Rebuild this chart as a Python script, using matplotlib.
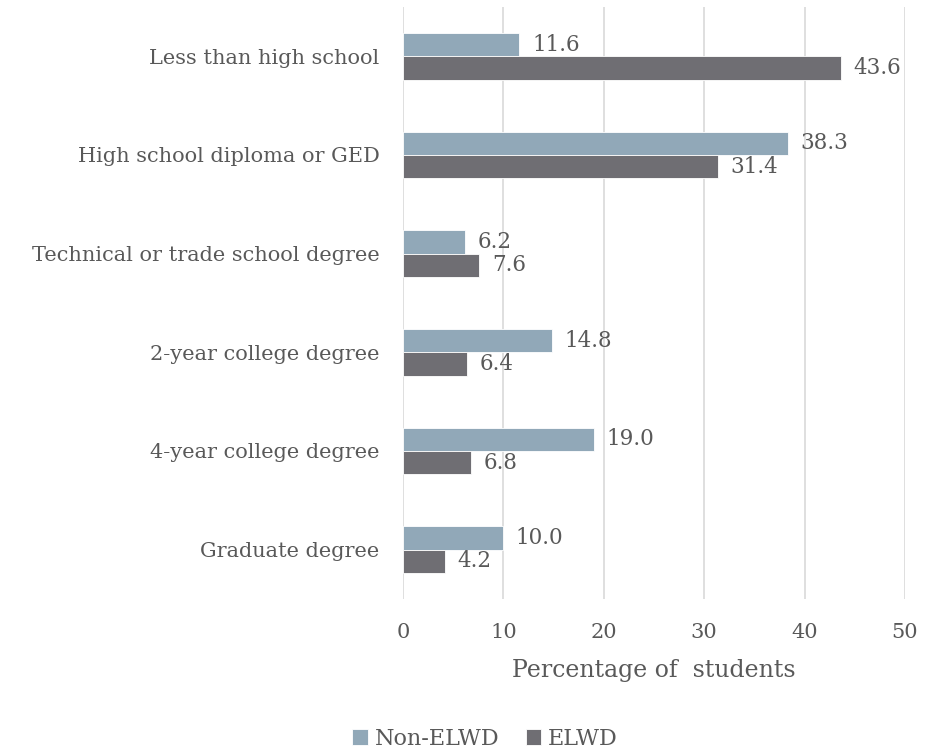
import matplotlib
matplotlib.use("Agg")
import matplotlib.pyplot as plt
import numpy as np

categories = ["Less than high school", "High school diploma or GED",
              "Technical or trade school degree", "2-year college degree",
              "4-year college degree", "Graduate degree"]
non_elwd = [11.6, 38.3, 6.2, 14.8, 19.0, 10.0]
elwd = [43.6, 31.4, 7.6, 6.4, 6.8, 4.2]
series_names = ["Non-ELWD", "ELWD"]
colors = ["#91A8B8", "#6F6E73"]
xticks = [0, 10, 20, 30, 40, 50]

plt.rcParams['font.family'] = ['DejaVu Serif']
txt = "#595959"

fig = plt.figure(figsize=(9.29, 7.51), dpi=100)
ax = fig.add_axes([403/929, 1-599/751, 502/929, 592/751])

y = np.arange(len(categories))
h = 0.237
b1 = ax.barh(y - h/2, non_elwd, height=h, color=colors[0], edgecolor="white", linewidth=0.6, label=series_names[0], zorder=3)
b2 = ax.barh(y + h/2, elwd, height=h, color=colors[1], edgecolor="white", linewidth=0.6, label=series_names[1], zorder=3)
for bars, vals in ((b1, non_elwd), (b2, elwd)):
    for rect, v in zip(bars, vals):
        ax.annotate(f"{v:.1f}", (rect.get_width(), rect.get_y() + rect.get_height()/2),
                    xytext=(9, 0), textcoords="offset points", va="center", ha="left",
                    fontsize=15.5, color=txt)

ax.set_ylim(len(categories) - 0.5, -0.5)
ax.set_xlim(0, 50)
ax.set_xticks(xticks)
ax.set_yticks(y)
ax.set_yticklabels(categories)
ax.tick_params(length=0, labelsize=15, labelcolor=txt)
ax.tick_params(axis='x', pad=17.5)
ax.tick_params(axis='y', pad=17)
ax.grid(axis='x', color="#D9D9D9", linewidth=1.2, zorder=0)
for s in ax.spines.values():
    s.set_visible(False)
ax.set_xlabel("Percentage of  students", fontsize=17, color=txt, labelpad=12)

fig.legend(handles=[b1, b2], labels=series_names, loc="center", bbox_to_anchor=(485/929, 1-739/751),
           ncol=2, frameon=False, fontsize=16, labelcolor=txt, handlelength=0.7, handleheight=0.7,
           handletextpad=0.3, columnspacing=1.2)

fig.savefig("out.png", dpi=100)
